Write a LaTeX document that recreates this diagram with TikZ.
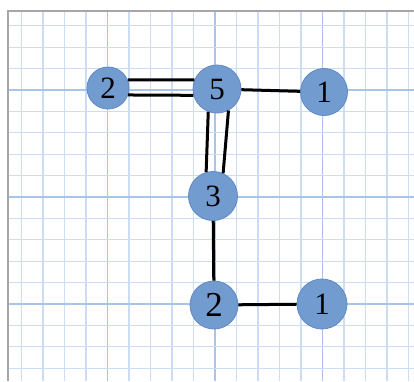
\documentclass[tikz,border=0pt]{standalone}
\usepackage{fontspec}
\setmainfont{Liberation Serif}
\definecolor{nodefill}{RGB}{114,155,208}
\definecolor{nodeedge}{RGB}{95,137,196}
\definecolor{gridminor}{RGB}{204,221,243}
\definecolor{gridmajor}{RGB}{168,196,234}
\definecolor{frame}{RGB}{166,166,166}
\tikzset{
  vtx/.style={circle, fill=nodefill, draw=nodeedge, line width=0.8pt, minimum size=#1, inner sep=0pt, font=\fontsize{31}{31}\selectfont},
  vtx/.default=48pt,
  bond/.style={line width=3pt, black},
  minorline/.style={gridminor, line width=1.2pt},
  majorline/.style={gridmajor, line width=1.6pt}
}
\begin{document}
\begin{tikzpicture}[x=1pt,y=-1pt]
\useasboundingbox (0,0) rectangle (414,381);
\fill[white] (0,0) rectangle (414,381);
\begin{scope}
\clip (8,11) rectangle (414,381);
\foreach \k in {1,...,19}{
  \pgfmathtruncatemacro{\m}{mod(\k,5)}
  \ifnum\m=0
    \draw[majorline] (21.5*\k,0) -- (21.5*\k,381);
  \else
    \draw[minorline] (21.5*\k,0) -- (21.5*\k,381);
  \fi
}
\foreach \k in {-3,...,13}{
  \pgfmathtruncatemacro{\m}{mod(\k+20,5)}
  \ifnum\m=0
    \draw[majorline] (0,90+21.4*\k) -- (414,90+21.4*\k);
  \else
    \draw[minorline] (0,90+21.4*\k) -- (414,90+21.4*\k);
  \fi
}
\end{scope}
\draw[frame, line width=1.5pt] (8,381) -- (8,11) -- (414,11);

\node[vtx=42pt] (a) at (108,88) {2};
\node[vtx=48pt] (b) at (217,89) {5};
\node[vtx=47pt] (c) at (324,92) {1};
\node[vtx=49pt] (d) at (213,196) {3};
\node[vtx=48pt, font=\fontsize{35}{35}\selectfont] (e) at (214,305) {2};
\node[vtx=50pt] (f) at (322,304) {1};

\draw[bond] (a.22) -- (b.158);
\draw[bond] (a.-19.5) -- (b.-165);
\draw[bond] (b.-111) -- (d.106);
\draw[bond] (b.-62) -- (d.66);
\draw[bond] (b) -- (c);
\draw[bond] (d) -- (e);
\draw[bond] (e) -- (f);
\end{tikzpicture}
\end{document}
